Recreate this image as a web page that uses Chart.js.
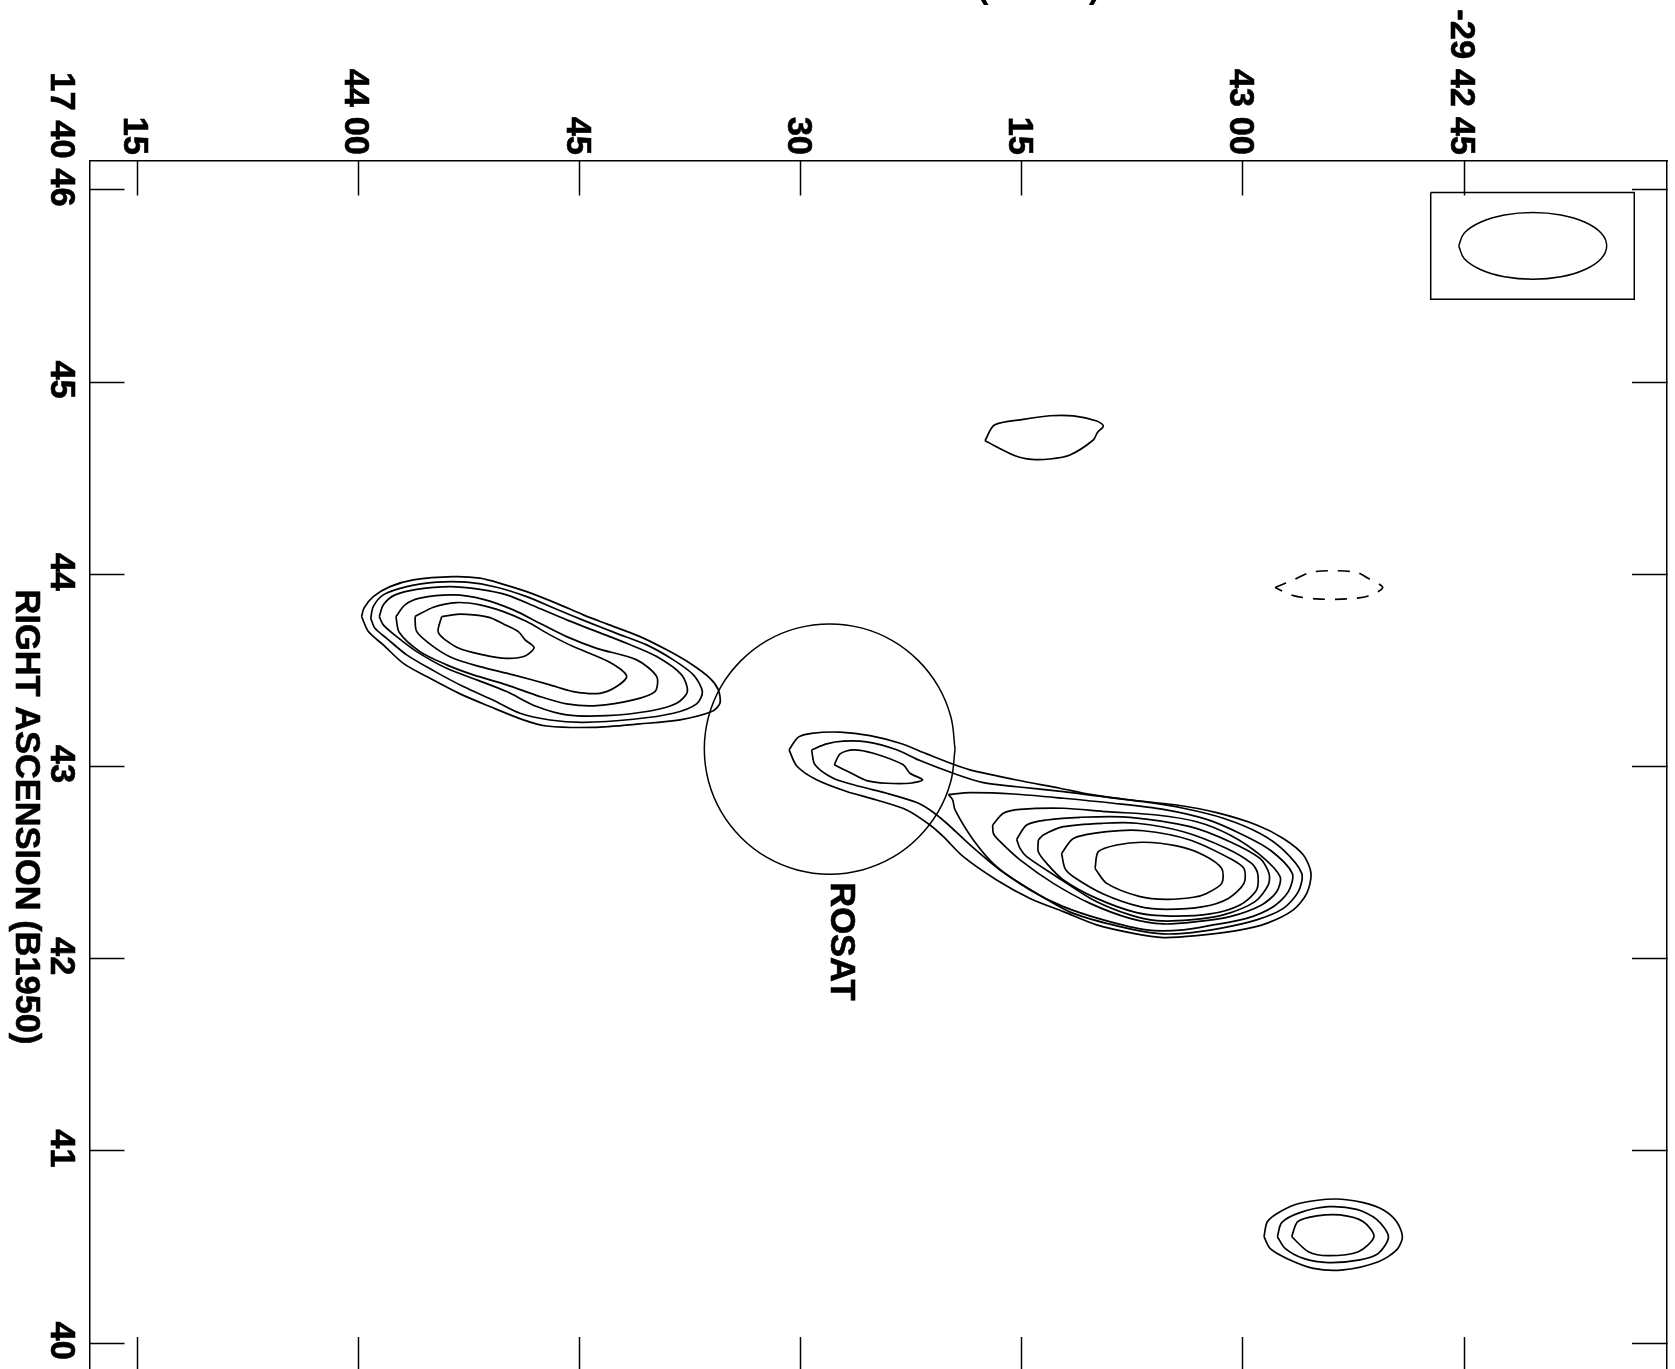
<!DOCTYPE html>
<html><head><meta charset="utf-8">
<script src="https://cdn.jsdelivr.net/npm/chart.js@4"></script>
<style>html,body{margin:0;padding:0;background:#fff;overflow:hidden;width:1675px;height:1369px}canvas{display:block}</style>
</head><body><canvas id="c" width="1675" height="1400"></canvas>
<script>
// Axis ticks: declination seconds past -29 42 00 (x), right ascension seconds past 17 40 (y)
const decTicks=[45,60,75,90,105,120,135];
const decLabels=['-29 42 45','43 00','15','30','45','44 00','15'];
const raTicks=[46,45,44,43,42,41,40];
const raLabels=['46','45','44','43','42','41','40'];
const raPrefix='17 40 ';
const xTitle='DECLINATION (B1950)';
const yTitle='RIGHT ASCENSION (B1950)';
const sourceLabel='ROSAT';

// Contours as [dec, ra] pairs
const lobeA1=[[119.79,43.780],[119.63,43.824],[119.00,43.884],[117.86,43.936],[116.28,43.971],[113.57,43.988],[111.76,43.980],[110.17,43.948],[108.59,43.910],[106.56,43.849],[104.75,43.789],[103.16,43.742],[100.90,43.676],[99.09,43.607],[97.51,43.537],[96.15,43.459],[95.59,43.399],[95.48,43.329],[96.04,43.286],[98.19,43.243],[100.90,43.222],[104.07,43.204],[107.23,43.211],[108.82,43.243],[111.08,43.312],[113.11,43.378],[115.15,43.459],[116.96,43.537],[118.32,43.633],[119.33,43.702],[119.79,43.780]];
const lobeA2=[[119.17,43.771],[119.00,43.832],[118.32,43.893],[116.73,43.936],[114.70,43.959],[112.66,43.959],[110.63,43.933],[108.59,43.884],[106.56,43.818],[104.52,43.754],[102.49,43.693],[100.45,43.633],[98.64,43.555],[97.28,43.477],[96.67,43.390],[97.06,43.326],[98.64,43.277],[101.35,43.246],[104.75,43.230],[107.01,43.242],[109.04,43.277],[110.85,43.345],[112.89,43.416],[114.92,43.499],[116.73,43.581],[118.09,43.667],[118.88,43.719],[119.17,43.771]];
const lobeA3=[[118.59,43.780],[118.32,43.841],[117.52,43.893],[116.05,43.922],[113.79,43.936],[111.76,43.922],[109.95,43.893],[107.91,43.829],[105.88,43.763],[103.84,43.702],[101.81,43.641],[99.77,43.572],[98.08,43.477],[97.69,43.390],[98.42,43.329],[100.22,43.289],[103.16,43.265],[105.88,43.269],[107.91,43.312],[109.95,43.390],[111.98,43.451],[114.02,43.511],[116.05,43.598],[117.41,43.676],[118.32,43.737],[118.59,43.780]];
const lobeA4=[[117.46,43.780],[116.85,43.841],[115.83,43.876],[113.57,43.893],[111.53,43.870],[109.50,43.815],[107.69,43.745],[105.88,43.676],[103.84,43.615],[101.13,43.555],[99.77,43.468],[99.89,43.390],[101.35,43.347],[103.84,43.317],[105.88,43.326],[107.69,43.364],[109.95,43.425],[112.21,43.477],[114.02,43.529],[115.83,43.598],[117.23,43.697],[117.46,43.780]];
const lobeA5=[[116.17,43.780],[114.92,43.829],[113.34,43.853],[111.76,43.841],[110.17,43.806],[108.59,43.754],[107.01,43.685],[105.43,43.624],[103.05,43.546],[101.81,43.471],[102.49,43.416],[103.62,43.381],[105.43,43.390],[107.01,43.425],[109.50,43.477],[111.76,43.520],[113.57,43.563],[114.92,43.624],[116.05,43.702],[116.17,43.780]];
const lobeA6=[[114.36,43.780],[113.34,43.792],[112.21,43.789],[111.08,43.775],[110.17,43.742],[109.16,43.702],[108.70,43.659],[108.09,43.619],[108.70,43.575],[109.95,43.563],[111.53,43.581],[113.34,43.621],[114.58,43.697],[114.36,43.780]];

const bridge1=[[90.79,43.087],[90.16,43.153],[89.26,43.173],[87.33,43.179],[85.30,43.161],[83.26,43.121],[81.45,43.066],[79.65,43.012],[78.52,42.983],[75.35,42.930],[72.41,42.887],[70.37,42.855],[67.66,42.826],[64.49,42.800],[61.78,42.760],[59.07,42.696],[57.26,42.626],[55.90,42.540],[55.38,42.444],[55.67,42.340],[56.58,42.254],[58.39,42.184],[60.42,42.146],[63.14,42.120],[65.40,42.110],[67.43,42.132],[69.92,42.176],[72.18,42.245],[74.44,42.314],[76.71,42.410],[78.97,42.531],[80.32,42.635],[81.23,42.696],[82.81,42.774],[84.85,42.826],[86.88,42.870],[88.92,42.931],[90.27,43.003],[90.79,43.087]];
const bridge2=[[89.26,43.087],[88.24,43.118],[87.11,43.132],[85.53,43.128],[83.49,43.087],[81.91,43.031],[79.65,42.965],[77.61,42.916],[75.35,42.895],[72.18,42.869],[69.92,42.847],[66.76,42.817],[64.04,42.783],[61.33,42.731],[58.84,42.652],[57.26,42.566],[56.01,42.444],[56.24,42.349],[57.26,42.262],[59.07,42.202],[61.55,42.158],[64.04,42.132],[65.85,42.132],[68.34,42.167],[71.50,42.236],[73.99,42.340],[76.48,42.462],[78.51,42.592],[80.10,42.705],[81.23,42.774],[82.13,42.813],[84.17,42.861],[85.98,42.896],[87.79,42.939],[89.03,43.009],[89.26,43.087]];
const coreInner=[[87.72,43.009],[87.33,43.066],[86.43,43.087],[85.07,43.069],[83.04,43.009],[82.59,42.965],[81.73,42.931],[82.59,42.913],[84.17,42.913],[85.53,42.927],[86.66,42.969],[87.72,43.009]];

const lobeB3=[[79.98,42.855],[78.51,42.864],[75.57,42.857],[72.18,42.835],[68.79,42.809],[65.40,42.777],[62.46,42.725],[60.20,42.652],[58.16,42.566],[56.65,42.444],[56.92,42.349],[57.94,42.271],[59.75,42.210],[62.01,42.176],[64.04,42.150],[66.53,42.150],[69.47,42.202],[72.18,42.271],[74.44,42.358],[76.71,42.479],[78.29,42.618],[79.53,42.774],[79.69,42.826],[79.98,42.855]];
const lobeB4=[[76.98,42.696],[76.25,42.757],[75.12,42.777],[72.18,42.783],[69.24,42.765],[65.85,42.748],[63.14,42.713],[60.88,42.644],[58.84,42.540],[57.48,42.427],[57.71,42.349],[58.73,42.280],[60.88,42.219],[63.14,42.193],[65.40,42.181],[67.66,42.210],[70.37,42.288],[72.86,42.392],[75.12,42.514],[76.59,42.618],[76.93,42.652],[76.98,42.696]];
const lobeB5=[[75.35,42.621],[74.67,42.696],[73.31,42.722],[71.05,42.736],[67.66,42.736],[63.59,42.687],[60.88,42.609],[58.84,42.522],[58.23,42.444],[58.28,42.384],[59.18,42.297],[61.33,42.228],[63.59,42.202],[65.85,42.198],[67.66,42.228],[70.15,42.306],[72.64,42.427],[74.67,42.531],[75.12,42.574],[75.35,42.621]];
const lobeB6=[[73.88,42.618],[73.54,42.644],[72.18,42.687],[69.47,42.705],[67.21,42.705],[64.04,42.661],[61.10,42.574],[59.41,42.496],[59.00,42.444],[59.07,42.358],[60.20,42.280],[62.23,42.233],[64.95,42.222],[67.21,42.240],[69.92,42.314],[72.18,42.410],[73.31,42.496],[73.88,42.557],[73.88,42.618]];
const lobeB7=[[72.30,42.548],[71.50,42.626],[69.24,42.661],[66.76,42.666],[63.59,42.618],[60.88,42.522],[59.93,42.470],[59.93,42.392],[60.99,42.314],[62.69,42.271],[65.17,42.257],[66.98,42.271],[69.47,42.337],[71.50,42.427],[72.07,42.470],[72.30,42.548]];
const lobeB8=[[70.03,42.470],[69.81,42.557],[68.56,42.592],[66.76,42.606],[64.49,42.587],[62.69,42.540],[61.44,42.470],[61.44,42.392],[62.46,42.340],[63.36,42.320],[65.17,42.309],[66.98,42.323],[69.24,42.392],[70.03,42.470]];

const blobLow1=[[58.57,40.554],[58.34,40.632],[57.48,40.684],[56.13,40.728],[53.75,40.750],[51.83,40.731],[50.47,40.693],[49.57,40.632],[49.18,40.554],[49.57,40.485],[50.81,40.424],[53.19,40.381],[55.22,40.389],[57.03,40.441],[58.16,40.493],[58.57,40.554]];
const blobLow2=[[57.66,40.554],[57.37,40.627],[56.13,40.679],[54.20,40.710],[52.28,40.696],[50.93,40.644],[50.13,40.554],[50.81,40.467],[52.06,40.433],[54.20,40.419],[55.90,40.441],[57.14,40.493],[57.66,40.554]];
const blobLow3=[[56.69,40.554],[56.28,40.632],[54.99,40.662],[53.41,40.667],[51.83,40.632],[51.11,40.554],[52.17,40.476],[54.20,40.455],[55.56,40.476],[56.69,40.554]];
const blobTop=[[77.50,44.695],[76.86,44.777],[74.90,44.806],[73.09,44.825],[71.50,44.824],[69.92,44.798],[69.47,44.772],[69.88,44.737],[70.15,44.699],[71.73,44.621],[73.09,44.600],[74.33,44.598],[75.46,44.617],[77.50,44.695]];
const negative=[[57.82,43.931],[56.35,43.979],[55.45,44.010],[53.98,44.019],[52.28,44.010],[51.49,43.979],[50.52,43.931],[51.49,43.887],[52.96,43.872],[55.00,43.872],[56.58,43.889],[57.82,43.931]];
const rosatCircle=[[79.53,43.091],[79.82,43.260],[80.67,43.417],[82.02,43.551],[83.78,43.655],[85.83,43.720],[88.04,43.742],[90.24,43.720],[92.29,43.655],[94.05,43.551],[95.40,43.417],[96.25,43.260],[96.54,43.091],[96.25,42.922],[95.40,42.765],[94.05,42.631],[92.29,42.527],[90.24,42.462],[88.04,42.440],[85.83,42.462],[83.78,42.527],[82.02,42.631],[80.67,42.765],[79.82,42.922],[79.53,43.091]];
const beamBox=[[47.26,45.986],[33.45,45.986],[33.45,45.431],[47.26,45.431],[47.26,45.986]];
const beamEllipse=[[45.36,45.709],[44.98,45.776],[43.89,45.832],[42.26,45.870],[40.34,45.883],[38.42,45.870],[36.79,45.832],[35.70,45.776],[35.32,45.709],[35.70,45.642],[36.79,45.586],[38.42,45.548],[40.34,45.535],[42.26,45.548],[43.89,45.586],[44.98,45.642],[45.36,45.709]];
const rosatAt=[87.27,42.09];

const FONT='"Liberation Sans", Arial, sans-serif';
const INK='#000';
const toXY=a=>a.map(p=>({x:p[0],y:p[1]}));
const line=(name,a,extra)=>Object.assign({label:name,data:toXY(a),showLine:true,pointRadius:0,borderColor:INK,backgroundColor:INK,borderWidth:1.7,tension:0.28,fill:false},extra||{});

const datasets=[
 line('lobeA1',lobeA1),line('lobeA2',lobeA2),line('lobeA3',lobeA3),line('lobeA4',lobeA4),line('lobeA5',lobeA5),line('lobeA6',lobeA6),
 line('bridge1',bridge1),line('bridge2',bridge2),line('coreInner',coreInner),
 line('lobeB3',lobeB3),line('lobeB4',lobeB4),line('lobeB5',lobeB5),line('lobeB6',lobeB6),line('lobeB7',lobeB7),line('lobeB8',lobeB8),
 line('blobLow1',blobLow1),line('blobLow2',blobLow2),line('blobLow3',blobLow3),line('blobTop',blobTop),
 line('negative',negative,{borderDash:[12,10]}),
 line('rosatCircle',rosatCircle,{tension:0.4,borderWidth:1.5}),
 line('beamBox',beamBox,{tension:0,borderWidth:1.5}),
 line('beamEllipse',beamEllipse,{tension:0.4,borderWidth:1.5})
];

const setTicks=(vals)=>s=>{s.ticks=vals.map(v=>({value:v}));};
const noPad=s=>{s.paddingTop=s.paddingBottom=s.paddingLeft=s.paddingRight=0;};
const frameGrid={drawOnChartArea:false,drawTicks:true,tickLength:-35,tickWidth:1.5,tickColor:INK};
const frameBorder={display:true,color:INK,width:1.5};
const tickFont={family:FONT,size:34.5,weight:'bold'};
const STROKE=0.6;
const decLimits={min:31.23,max:138.25,reverse:true};
const raLimits={min:39.85,max:46.153};

const annotate={id:'annotate',afterDraw(chart){
  const c=chart.ctx,x=chart.scales.x,y=chart.scales.y;
  c.save();c.fillStyle=INK;c.strokeStyle=INK;c.lineWidth=STROKE;c.font='bold 34px '+FONT;
  // horizontal title, mostly above the top edge of the page
  c.textAlign='right';c.textBaseline='alphabetic';
  c.fillText(xTitle,1100,-2);
  const rot=(text,px,py,align)=>{c.save();c.translate(px,py);c.rotate(Math.PI/2);c.textAlign=align;c.textBaseline='middle';c.fillText(text,0,0);c.strokeText(text,0,0);c.restore();};
  c.font='bold 34.4px '+FONT;
  rot(yTitle,25.5,817,'center');
  c.font='bold 34.5px '+FONT;
  // ROSAT label, read downwards
  rot(sourceLabel,x.getPixelForValue(rosatAt[0]),y.getPixelForValue(rosatAt[1]),'center');
  const w46=c.measureText(raLabels[0]).width;
  rot(raPrefix.trimEnd()+'\u00a0',61,y.getPixelForValue(raTicks[0])-2.5-w46/2,'right');
  c.restore();
}};

new Chart(document.getElementById('c'),{
 type:'scatter',
 data:{datasets},
 plugins:[annotate],
 options:{
  responsive:false,animation:false,devicePixelRatio:1,
  layout:{padding:0},
  plugins:{legend:{display:false},tooltip:{enabled:false},title:{display:false}},
  elements:{line:{capBezierPoints:true}},
  scales:{
   x:{type:'linear',position:'top',...decLimits,
      afterBuildTicks:s=>{setTicks(decTicks)(s);s._getXAxisLabelAlignment=()=>'right';},
      afterFit:s=>{s.height=160.5;noPad(s);},
      grid:frameGrid,border:frameBorder,
      ticks:{display:true,minRotation:-90,maxRotation:-90,autoSkip:false,padding:40.5,labelOffset:-44.9,color:INK,font:tickFont,textStrokeColor:INK,textStrokeWidth:STROKE,
             callback:(v)=>decLabels[decTicks.indexOf(v)]}},
   x2:{type:'linear',position:'bottom',...decLimits,
      afterBuildTicks:setTicks(decTicks),afterFit:s=>{s.height=28;noPad(s);},
      grid:frameGrid,border:frameBorder,ticks:{display:false}},
   y:{type:'linear',position:'left',...raLimits,
      afterBuildTicks:setTicks(raTicks),afterFit:s=>{s.width=89.5;noPad(s);},
      grid:frameGrid,border:frameBorder,
      ticks:{display:true,minRotation:-90,maxRotation:-90,autoSkip:false,crossAlign:'center',padding:44.6,labelOffset:-2.5,color:INK,font:tickFont,textStrokeColor:INK,textStrokeWidth:STROKE,
             callback:(v)=>raLabels[raTicks.indexOf(v)]}},
   y2:{type:'linear',position:'right',...raLimits,
      afterBuildTicks:setTicks(raTicks),afterFit:s=>{s.width=8;noPad(s);},
      grid:frameGrid,border:frameBorder,ticks:{display:false}}
  }
 }
});
</script></body></html>
